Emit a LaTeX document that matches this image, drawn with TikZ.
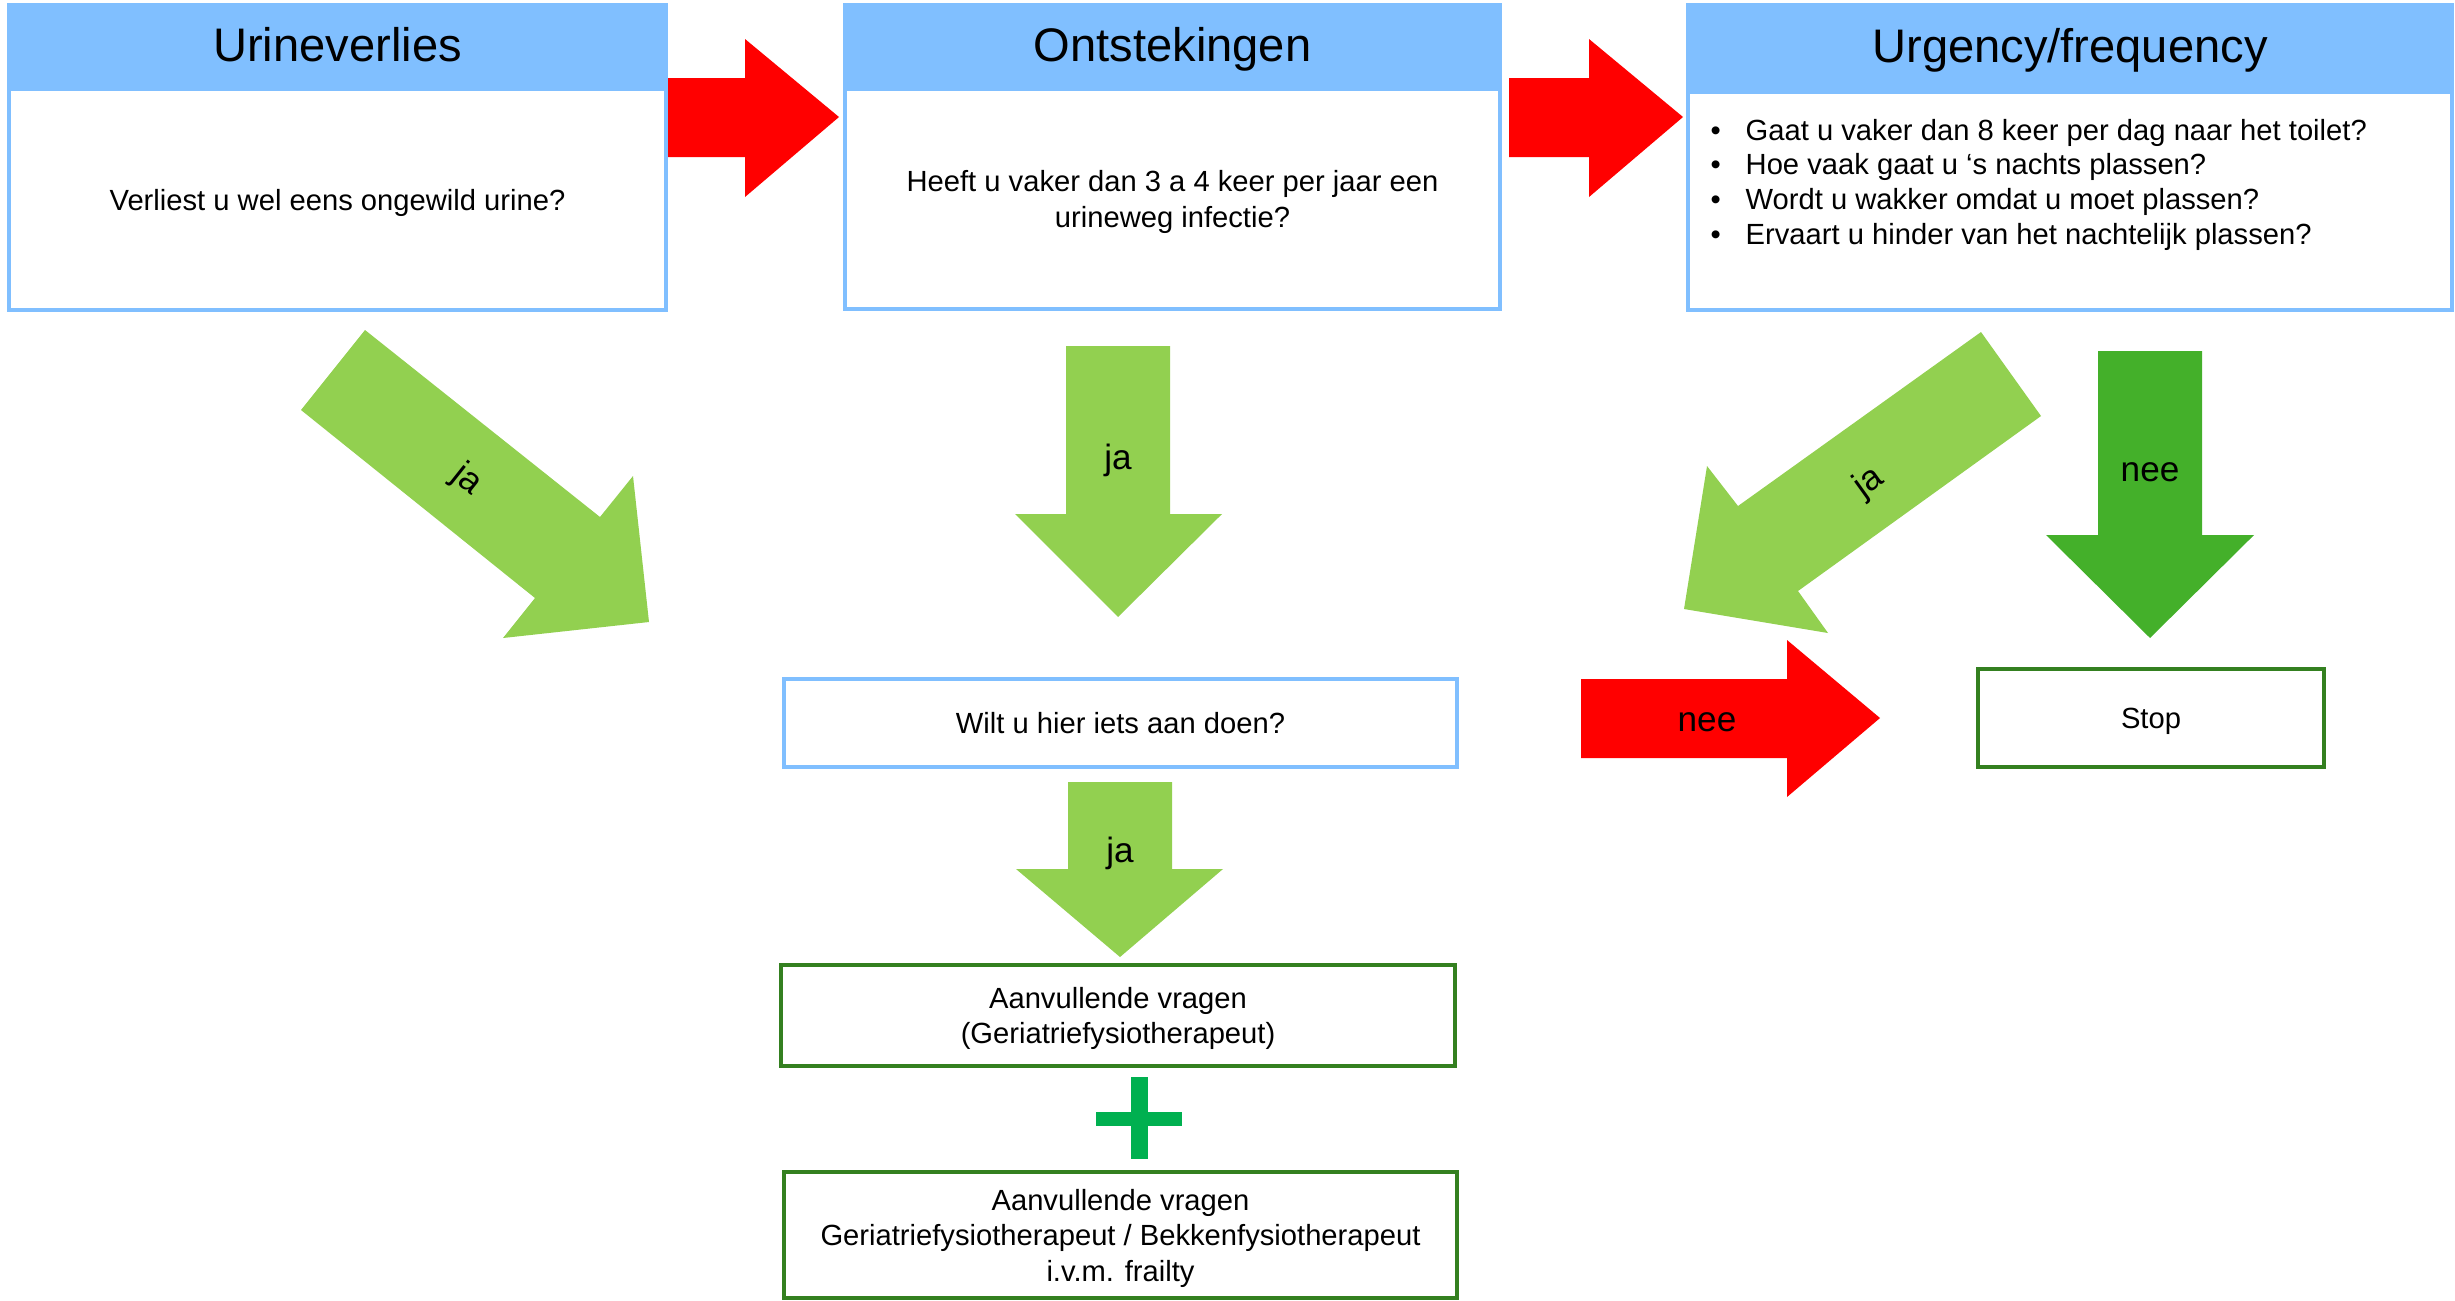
\documentclass[tikz,border=0pt]{standalone}
\usepackage{fontspec}
\setmainfont{Liberation Sans}
\definecolor{hdrblue}{RGB}{128,191,255}
\definecolor{jagreen}{RGB}{146,208,80}
\definecolor{neegreen}{RGB}{68,176,42}
\definecolor{boxgreen}{RGB}{52,128,32}
\definecolor{plusgreen}{RGB}{0,176,80}

\begin{document}
\begin{tikzpicture}[x=0.1mm,y=-0.1mm,
    every node/.style={font=\fontsize{8.3}{10.1}\selectfont,align=center},
    hdr/.style={fill=hdrblue,draw=hdrblue,line width=0.4mm,
      font=\fontsize{13.4}{16}\selectfont,text height=0.85em,text depth=0.05em},
    qbox/.style={draw=hdrblue,fill=white,line width=0.4mm,text depth=0pt},
    gbox/.style={draw=boxgreen,fill=white,line width=0.45mm,text depth=0pt},
    lbl/.style={font=\fontsize{10}{12}\selectfont,inner sep=0pt}]

    \useasboundingbox (0,0) rectangle (2455,1300);

    %==================== Top row: three question blocks ====================
    \node[hdr,minimum width=65.7mm,minimum height=8.4mm] (hdr1) at (337.5,47) {Urineverlies};
    \node[qbox,minimum width=65.7mm,minimum height=22.1mm] (body1) at (337.5,199.5)
      {Verliest u wel eens ongewild urine?};

    \node[hdr,minimum width=65.5mm,minimum height=8.4mm] (hdr2) at (1172.5,47) {Ontstekingen};
    \node[qbox,minimum width=65.5mm,minimum height=22mm] (body2) at (1172.5,199)
      {Heeft u vaker dan 3 a 4 keer per jaar een\\urineweg infectie?};

    \node[hdr,minimum width=76.4mm,minimum height=8.7mm] (hdr3) at (2070,48.5) {Urgency/frequency};
    \node[qbox,minimum width=76.4mm,minimum height=21.8mm] (body3) at (2070,201) {};

    % Question list in the third block
    \foreach \i/\q in {1/{Gaat u vaker dan 8 keer per dag naar het toilet?},
                       2/{Hoe vaak gaat u ‘s nachts plassen?},
                       3/{Wordt u wakker omdat u moet plassen?},
                       4/{Ervaart u hinder van het nachtelijk plassen?}} {
      \node[anchor=base west,inner sep=0pt] (q\i) at (1710,{140+34.7*(\i-1)})
        {\makebox[3.5mm][l]{\textbullet}\q};
    }

    % Red arrows between the blocks
    \fill[red] (668,78) -- (745,78) -- (745,39) -- (839,117) -- (745,197)
      -- (745,157) -- (668,157) -- cycle;
    \fill[red] (1509,78) -- (1589,78) -- (1589,39) -- (1683,117) -- (1589,197)
      -- (1589,157) -- (1509,157) -- cycle;

    %==================== Answer arrows ====================
    % ja from Urineverlies (down-right)
    \fill[jagreen] (365,330) -- (600,517) -- (633,476) -- (649,622) -- (503,638)
      -- (535,598) -- (301,410) -- cycle;
    \node[lbl,rotate=-38.5] (ja1) at (467,480) {ja};

    % ja from Ontstekingen (down)
    \fill[jagreen] (1066,346) -- (1170,346) -- (1170,514) -- (1222,514) -- (1118,617)
      -- (1015,514) -- (1066,514) -- cycle;
    \node[lbl] (ja2) at (1118,460) {ja};

    % ja from Urgency/frequency (down-left)
    \fill[jagreen] (1981,332) -- (2041,416) -- (1798,591) -- (1828,633) -- (1684,609)
      -- (1707,466) -- (1738,506) -- cycle;
    \node[lbl,rotate=35.7] (ja3) at (1869,483) {ja};

    % nee from Urgency/frequency (down)
    \fill[neegreen] (2098,351) -- (2202,351) -- (2202,535) -- (2254,535) -- (2150,638)
      -- (2046,535) -- (2098,535) -- cycle;
    \node[lbl] (nee1) at (2150,472) {nee};

    %==================== Middle column ====================
    \node[qbox,minimum width=67.3mm,minimum height=8.8mm] (wilt) at (1120.5,723)
      {Wilt u hier iets aan doen?};

    % nee to Stop
    \fill[red] (1581,679) -- (1787,679) -- (1787,640) -- (1880,718) -- (1787,797)
      -- (1787,758) -- (1581,758) -- cycle;
    \node[lbl] (nee2) at (1707,722) {nee};

    \node[gbox,minimum width=34.6mm,minimum height=9.8mm] (stop) at (2151,718) {Stop};

    % ja to extra questions
    \fill[jagreen] (1068,782) -- (1172,782) -- (1172,869) -- (1223,869) -- (1120,957)
      -- (1016,869) -- (1068,869) -- cycle;
    \node[lbl] (ja4) at (1120,853) {ja};

    \node[gbox,minimum width=67.4mm,minimum height=10.1mm] (aanv1) at (1118,1015.5)
      {Aanvullende vragen\\(Geriatriefysiotherapeut)};

    % Plus sign
    \fill[plusgreen] (1131,1077) rectangle (1148,1159);
    \fill[plusgreen] (1096,1112) rectangle (1182,1126);

    \node[gbox,minimum width=67.3mm,minimum height=12.6mm] (aanv2) at (1120.5,1235)
      {Aanvullende vragen\\Geriatriefysiotherapeut / Bekkenfysiotherapeut\\i.v.m. frailty};

  \end{tikzpicture}
\end{document}
